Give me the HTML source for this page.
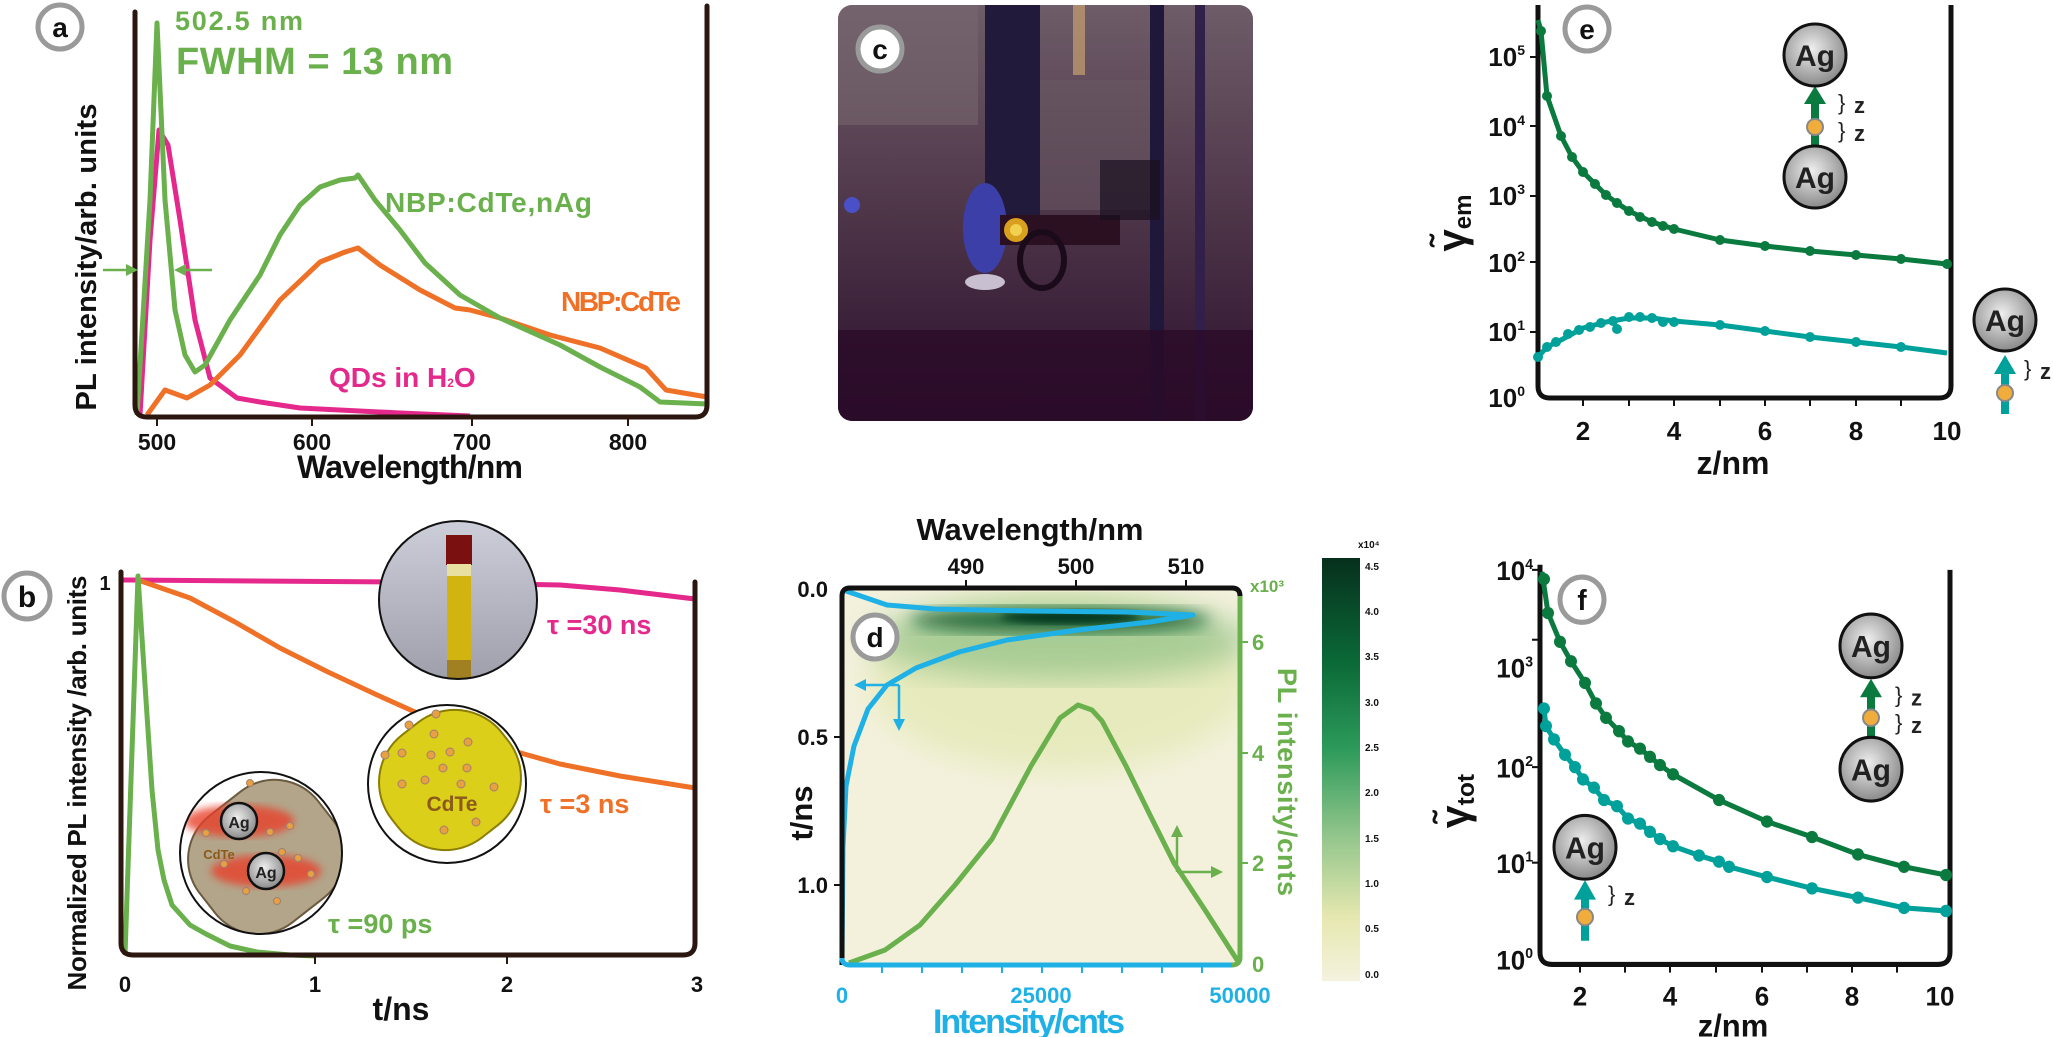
<!DOCTYPE html>
<html><head><meta charset="utf-8"><style>
html,body{margin:0;padding:0;background:#fff;}
svg{display:block;font-family:"Liberation Sans",sans-serif;font-weight:bold;}
</style></head><body>
<svg width="2053" height="1037" viewBox="0 0 2053 1037" xmlns="http://www.w3.org/2000/svg">
<defs>
<radialGradient id="ag" cx="0.45" cy="0.4" r="0.6"><stop offset="0" stop-color="#eeeeee"/><stop offset="1" stop-color="#8a8a8a"/></radialGradient>
<linearGradient id="cb" x1="0" y1="0" x2="0" y2="1"><stop offset="0" stop-color="#06301c"/><stop offset="0.25" stop-color="#0b6a38"/><stop offset="0.45" stop-color="#2c9a5a"/><stop offset="0.65" stop-color="#8fc48a"/><stop offset="0.85" stop-color="#e6e8b0"/><stop offset="1" stop-color="#f4f2de"/></linearGradient>
<linearGradient id="photo" x1="0" y1="0" x2="0" y2="1"><stop offset="0" stop-color="#6e5c68"/><stop offset="0.5" stop-color="#4e3649"/><stop offset="1" stop-color="#2a0f2c"/></linearGradient>
<linearGradient id="vialbg" x1="0" y1="0" x2="0" y2="1"><stop offset="0" stop-color="#cfd1dc"/><stop offset="1" stop-color="#9c9ca8"/></linearGradient>
<filter id="bl8"><feGaussianBlur stdDeviation="8"/></filter>
<filter id="bl4"><feGaussianBlur stdDeviation="4"/></filter>
<filter id="bl15"><feGaussianBlur stdDeviation="15"/></filter>
<clipPath id="cv"><circle cx="458" cy="600" r="79"/></clipPath>
<clipPath id="cc"><circle cx="447" cy="784" r="79"/></clipPath>
<clipPath id="ca"><circle cx="261" cy="853" r="81"/></clipPath>
<clipPath id="cd"><rect x="842" y="588" width="398" height="377"/></clipPath>
<clipPath id="cp"><rect x="838" y="5" width="415" height="416" rx="14"/></clipPath>
</defs>

<!-- ===== Panel a ===== -->
<circle cx="60" cy="27" r="22" fill="#fff" stroke="#9a9a9a" stroke-width="5"/>
<text x="60" y="37" font-size="28" text-anchor="middle" fill="#111">a</text>
<polyline fill="none" stroke="#e5288c" stroke-width="5" stroke-linejoin="round" points="140,415 150,240 159,130 168,145 180,220 195,320 210,378 237,398 260,402 300,408 400,413 470,416"/>
<polyline fill="none" stroke="#ee7127" stroke-width="5" stroke-linejoin="round" points="147,415 165,390 187,398 210,385 240,355 280,300 320,262 345,252 358,248 380,265 420,290 455,308 470,310 500,318 550,335 600,348 646,368 666,390 707,397"/>
<polyline fill="none" stroke="#6ab04c" stroke-width="5" stroke-linejoin="round" points="137,415 150,200 157,23 165,200 175,310 185,355 195,372 205,365 230,320 260,275 280,235 300,205 320,187 340,180 355,178 358,175 375,200 400,230 425,263 460,295 500,318 560,345 600,367 640,387 660,402 707,404"/>
<path d="M135,12 V405 Q135,417 147,417 H695 Q707,417 707,405 V6" fill="none" stroke="#2b1610" stroke-width="5" stroke-linecap="round"/>
<g stroke="#2b1610" stroke-width="2"><line x1="157" y1="417" x2="157" y2="426"/><line x1="312" y1="417" x2="312" y2="426"/><line x1="472" y1="417" x2="472" y2="426"/><line x1="628" y1="417" x2="628" y2="426"/></g>
<g font-size="23" fill="#111" text-anchor="middle"><text x="157" y="450">500</text><text x="312" y="450">600</text><text x="472" y="450">700</text><text x="628" y="450">800</text></g>
<text x="410" y="478" font-size="32" text-anchor="middle" fill="#111" textLength="226">Wavelength/nm</text>
<text transform="translate(96,257) rotate(-90)" font-size="29" text-anchor="middle" fill="#111" textLength="307">PL intensity/arb. units</text>
<g stroke="#6ab04c" stroke-width="2.5" fill="#6ab04c"><line x1="103" y1="270" x2="128" y2="270"/><polygon points="138,270 126,264 126,276" stroke="none"/><line x1="212" y1="270" x2="184" y2="270"/><polygon points="174,270 186,264 186,276" stroke="none"/></g>
<text x="175" y="30" font-size="27" fill="#6ab04c" textLength="128">502.5 nm</text>
<text x="176" y="74" font-size="38" fill="#6ab04c" textLength="277">FWHM = 13 nm</text>
<text x="385" y="212" font-size="28" fill="#6ab04c" textLength="207">NBP:CdTe,nAg</text>
<text x="561" y="311" font-size="28" fill="#ee7127" textLength="120">NBP:CdTe</text>
<text x="329" y="387" font-size="28" fill="#e5288c">QDs in H<tspan font-size="12">2</tspan>O</text>

<!-- ===== Panel c (photo) ===== -->
<g clip-path="url(#cp)">
<rect x="838" y="5" width="415" height="416" fill="url(#photo)"/>
<rect x="838" y="5" width="140" height="120" fill="#7a6a70" opacity="0.5"/>
<rect x="1030" y="80" width="120" height="130" fill="#6a5a64" opacity="0.5"/>
<rect x="985" y="5" width="55" height="215" fill="#221a3a"/>
<rect x="1073" y="5" width="12" height="70" fill="#c8a070" opacity="0.7"/>
<rect x="1150" y="5" width="14" height="420" fill="#20183a"/>
<rect x="1195" y="5" width="10" height="420" fill="#30204a"/>
<ellipse cx="985" cy="228" rx="22" ry="45" fill="#3d3fa8"/>
<rect x="1000" y="215" width="120" height="30" fill="#2a1020"/>
<circle cx="1016" cy="230" r="12" fill="#d9a020"/>
<circle cx="1016" cy="230" r="6" fill="#f2d050"/>
<ellipse cx="1042" cy="260" rx="22" ry="28" fill="none" stroke="#1a0a1a" stroke-width="6"/>
<ellipse cx="985" cy="282" rx="20" ry="8" fill="#c8c0d0"/>
<rect x="838" y="330" width="415" height="91" fill="#2a0a28" opacity="0.8"/>
<rect x="1100" y="160" width="60" height="60" fill="#1a1020" opacity="0.7"/>
<circle cx="852" cy="205" r="8" fill="#4a50c8"/>
</g>
<circle cx="880" cy="49" r="22" fill="#fff" stroke="#9a9a9a" stroke-width="5"/>
<text x="880" y="59" font-size="28" text-anchor="middle" fill="#111">c</text>

<!-- ===== Panel b ===== -->
<circle cx="27" cy="596" r="23" fill="#fff" stroke="#9a9a9a" stroke-width="5"/>
<text x="27" y="607" font-size="30" text-anchor="middle" fill="#111">b</text>
<text transform="translate(86,783) rotate(-90)" font-size="26" text-anchor="middle" fill="#111" textLength="415">Normalized PL intensity /arb. units</text>
<text x="105" y="590" font-size="20" fill="#111" text-anchor="middle">1</text>
<polyline fill="none" stroke="#e5288c" stroke-width="5" points="123,580 400,582 560,585 620,590 695,599"/>
<polyline fill="none" stroke="#ee7127" stroke-width="5" stroke-linejoin="round" points="138,580 190,598 235,622 280,648 328,672 375,694 415,712 470,735 517,752 560,764 620,776 695,788"/>
<polyline fill="none" stroke="#6ab04c" stroke-width="5" stroke-linejoin="round" points="125,955 131,780 138,576 146,700 152,790 158,850 164,880 172,905 190,925 206,934 230,946 257,952 290,955 316,956"/>
<path d="M121,572 V943 Q121,955 133,955 H683 Q695,955 695,943 V582" fill="none" stroke="#2b1610" stroke-width="5" stroke-linecap="round"/>
<g stroke="#2b1610" stroke-width="2"><line x1="315" y1="955" x2="315" y2="964"/><line x1="507" y1="955" x2="507" y2="964"/></g>
<g font-size="22" fill="#111" text-anchor="middle"><text x="125" y="992">0</text><text x="315" y="992">1</text><text x="507" y="992">2</text><text x="697" y="992">3</text></g>
<text x="401" y="1020" font-size="32" text-anchor="middle" fill="#111">t/ns</text>
<text x="547" y="634" font-size="27" fill="#e5288c">τ =30 ns</text>
<text x="540" y="813" font-size="27" fill="#ee7127">τ =3 ns</text>
<text x="328" y="933" font-size="27" fill="#6ab04c">τ =90 ps</text>
<g clip-path="url(#cv)"><rect x="370" y="510" width="180" height="180" fill="url(#vialbg)"/>
<rect x="446" y="535" width="26" height="30" fill="#7a1010"/><rect x="447" y="564" width="24" height="110" fill="#d2b410"/><rect x="447" y="564" width="24" height="12" fill="#e8e0a0"/><rect x="447" y="660" width="24" height="30" fill="#a08020"/></g>
<circle cx="458" cy="600" r="79" fill="none" stroke="#111" stroke-width="2"/>
<circle cx="447" cy="784" r="79" fill="#fff"/>
<g clip-path="url(#cc)"><rect x="380" y="715" width="140" height="130" rx="60" transform="rotate(-38 450 780)" fill="#dccf1a" stroke="#8a7d00" stroke-width="2"/>
<g fill="#e8a040" stroke="#a08070" stroke-width="1"><circle cx="436" cy="714" r="4"/><circle cx="409" cy="725" r="4"/><circle cx="434" cy="734" r="4"/><circle cx="468" cy="742" r="4"/><circle cx="385" cy="755" r="4"/><circle cx="402" cy="753" r="4"/><circle cx="431" cy="755" r="4"/><circle cx="450" cy="752" r="4"/><circle cx="443" cy="768" r="4"/><circle cx="467" cy="768" r="4"/><circle cx="425" cy="780" r="4"/><circle cx="461" cy="784" r="4"/><circle cx="402" cy="784" r="4"/><circle cx="494" cy="787" r="4"/><circle cx="476" cy="822" r="4"/><circle cx="444" cy="830" r="4"/></g>
<text x="452" y="811" font-size="21" fill="#8b5a1a" text-anchor="middle">CdTe</text></g>
<circle cx="447" cy="784" r="79" fill="none" stroke="#111" stroke-width="2"/>
<circle cx="261" cy="853" r="81" fill="#fff"/>
<g clip-path="url(#ca)"><rect x="190" y="790" width="150" height="135" rx="55" transform="rotate(-38 265 855)" fill="#b3a58a" stroke="#6a5a40" stroke-width="2"/>
<ellipse cx="239" cy="821" rx="55" ry="16" fill="#e8402a" opacity="0.8" filter="url(#bl4)"/>
<ellipse cx="266" cy="871" rx="55" ry="16" fill="#e8402a" opacity="0.8" filter="url(#bl4)"/>
<circle cx="239" cy="821" r="18" fill="url(#ag)" stroke="#111" stroke-width="2.5"/><text x="239" y="828" font-size="16" text-anchor="middle" fill="#222">Ag</text>
<circle cx="266" cy="871" r="18" fill="url(#ag)" stroke="#111" stroke-width="2.5"/><text x="266" y="878" font-size="16" text-anchor="middle" fill="#222">Ag</text>
<text x="219" y="859" font-size="13" fill="#8b5a1a" text-anchor="middle">CdTe</text>
<g fill="#e8a040" stroke="#a08070" stroke-width="1"><circle cx="250" cy="783" r="3.5"/><circle cx="270" cy="832" r="3.5"/><circle cx="290" cy="826" r="3.5"/><circle cx="206" cy="833" r="3.5"/><circle cx="282" cy="852" r="3.5"/><circle cx="224" cy="864" r="3.5"/><circle cx="298" cy="858" r="3.5"/><circle cx="311" cy="874" r="3.5"/><circle cx="246" cy="891" r="3.5"/><circle cx="277" cy="901" r="3.5"/></g></g>
<circle cx="261" cy="853" r="81" fill="none" stroke="#111" stroke-width="2"/>

<!-- ===== Panel d ===== -->
<g clip-path="url(#cd)">
<rect x="842" y="588" width="398" height="377" fill="#f3f1dc"/>
<ellipse cx="1060" cy="680" rx="190" ry="90" fill="#dfe6a8" opacity="0.6" filter="url(#bl15)"/>
<ellipse cx="1060" cy="640" rx="190" ry="40" fill="#5fa866" opacity="0.45" filter="url(#bl15)"/>
<ellipse cx="1060" cy="620" rx="150" ry="13" fill="#0e5a2e" opacity="0.85" filter="url(#bl8)"/>
<ellipse cx="1070" cy="617" rx="70" ry="7" fill="#06301c" opacity="0.9" filter="url(#bl4)"/>
</g>
<polyline fill="none" stroke="#1fb1e6" stroke-width="5" stroke-linejoin="round" points="846,591 887,605 935,609 1031,611 1126,612 1193,615 1150,622 1078,630 1007,640 959,652 916,668 887,685 868,709 854,746 846,786 843,847 842,961"/>
<polyline fill="none" stroke="#6ab04c" stroke-width="5" stroke-linejoin="round" points="849,963 885,950 920,925 955,885 992,839 1031,766 1060,718 1078,705 1092,710 1102,721 1126,766 1150,815 1174,863 1205,910 1239,963"/>
<g stroke="#1fb1e6" stroke-width="2.5" fill="#1fb1e6"><line x1="899" y1="685" x2="864" y2="685"/><polygon points="854,685 866,679 866,691" stroke="none"/><line x1="899" y1="685" x2="899" y2="721"/><polygon points="899,731 893,719 905,719" stroke="none"/></g>
<g stroke="#6ab04c" stroke-width="2.5" fill="#6ab04c"><line x1="1177" y1="872" x2="1177" y2="835"/><polygon points="1177,825 1171,837 1183,837" stroke="none"/><line x1="1177" y1="872" x2="1213" y2="872"/><polygon points="1223,872 1211,866 1211,878" stroke="none"/></g>
<path d="M842,965 V596 Q842,588 850,588 H1232 Q1240,588 1240,596" fill="none" stroke="#111" stroke-width="5"/>
<path d="M1240,596 V957 Q1240,965 1232,965" fill="none" stroke="#6ab04c" stroke-width="5"/>
<path d="M1232,965 H850 Q842,965 842,958" fill="none" stroke="#1fb1e6" stroke-width="5"/>
<circle cx="875" cy="637" r="22" fill="#fff" stroke="#9a9a9a" stroke-width="5"/>
<text x="875" y="647" font-size="28" text-anchor="middle" fill="#111">d</text>
<g stroke="#111" stroke-width="2"><line x1="966" y1="580" x2="966" y2="588"/><line x1="1076" y1="580" x2="1076" y2="588"/><line x1="1186" y1="580" x2="1186" y2="588"/><line x1="834" y1="737" x2="842" y2="737"/><line x1="834" y1="885" x2="842" y2="885"/></g>
<g font-size="22" fill="#111" text-anchor="middle"><text x="966" y="574">490</text><text x="1076" y="574">500</text><text x="1186" y="574">510</text></g>
<text x="1030" y="540" font-size="31" text-anchor="middle" fill="#111" textLength="227">Wavelength/nm</text>
<g font-size="22" fill="#111" text-anchor="end"><text x="828" y="597">0.0</text><text x="828" y="745">0.5</text><text x="828" y="893">1.0</text></g>
<text transform="translate(812,813) rotate(-90)" font-size="31" text-anchor="middle" fill="#111">t/ns</text>
<g stroke="#1fb1e6" stroke-width="2"><line x1="882" y1="965" x2="882" y2="973"/><line x1="922" y1="965" x2="922" y2="973"/><line x1="962" y1="965" x2="962" y2="973"/><line x1="1002" y1="965" x2="1002" y2="973"/><line x1="1042" y1="965" x2="1042" y2="973"/><line x1="1082" y1="965" x2="1082" y2="973"/><line x1="1122" y1="965" x2="1122" y2="973"/><line x1="1162" y1="965" x2="1162" y2="973"/><line x1="1202" y1="965" x2="1202" y2="973"/></g>
<g font-size="22" fill="#1fb1e6" text-anchor="middle"><text x="842" y="1003">0</text><text x="1041" y="1003">25000</text><text x="1240" y="1003">50000</text></g>
<text x="1029" y="1033" font-size="34" text-anchor="middle" fill="#1fb1e6" textLength="192">Intensity/cnts</text>
<g stroke="#6ab04c" stroke-width="2"><line x1="1240" y1="642" x2="1248" y2="642"/><line x1="1240" y1="753" x2="1248" y2="753"/><line x1="1240" y1="863" x2="1248" y2="863"/></g>
<g font-size="22" fill="#6ab04c"><text x="1252" y="650">6</text><text x="1252" y="761">4</text><text x="1252" y="871">2</text><text x="1252" y="972">0</text><text x="1250" y="592" font-size="17">x10³</text></g>
<text transform="translate(1278,782) rotate(90)" font-size="27" text-anchor="middle" fill="#6ab04c" textLength="228">PL intensity/cnts</text>
<rect x="1322" y="558" width="38" height="423" fill="url(#cb)"/>
<g font-size="10" fill="#111"><text x="1358" y="548">x10⁴</text><text x="1365" y="570">4.5</text><text x="1365" y="615">4.0</text><text x="1365" y="660">3.5</text><text x="1365" y="706">3.0</text><text x="1365" y="751">2.5</text><text x="1365" y="796">2.0</text><text x="1365" y="842">1.5</text><text x="1365" y="887">1.0</text><text x="1365" y="932">0.5</text><text x="1365" y="978">0.0</text></g>

<!-- ===== Panel e ===== -->
<path d="M1538,5 V386 Q1538,398 1550,398 H1939 Q1951,398 1951,386 V5" fill="none" stroke="#111" stroke-width="5"/>
<g stroke="#111" stroke-width="2"><line x1="1530" y1="57" x2="1538" y2="57"/><line x1="1530" y1="126" x2="1538" y2="126"/><line x1="1530" y1="196" x2="1538" y2="196"/><line x1="1530" y1="262" x2="1538" y2="262"/><line x1="1530" y1="332" x2="1538" y2="332"/>
<line x1="1583" y1="398" x2="1583" y2="406"/><line x1="1629" y1="398" x2="1629" y2="406"/><line x1="1674" y1="398" x2="1674" y2="406"/><line x1="1720" y1="398" x2="1720" y2="406"/><line x1="1765" y1="398" x2="1765" y2="406"/><line x1="1810" y1="398" x2="1810" y2="406"/><line x1="1856" y1="398" x2="1856" y2="406"/><line x1="1901" y1="398" x2="1901" y2="406"/></g>
<g font-size="26" fill="#111" text-anchor="end"><text x="1525" y="66">10<tspan font-size="14" dy="-11">5</tspan></text><text x="1525" y="136">10<tspan font-size="14" dy="-11">4</tspan></text><text x="1525" y="205">10<tspan font-size="14" dy="-11">3</tspan></text><text x="1525" y="272">10<tspan font-size="14" dy="-11">2</tspan></text><text x="1525" y="341">10<tspan font-size="14" dy="-11">1</tspan></text><text x="1525" y="407">10<tspan font-size="14" dy="-11">0</tspan></text></g>
<g font-size="26" fill="#111" text-anchor="middle"><text x="1583" y="440">2</text><text x="1674" y="440">4</text><text x="1765" y="440">6</text><text x="1856" y="440">8</text><text x="1947" y="440">10</text></g>
<text x="1733" y="474" font-size="32" text-anchor="middle" fill="#111">z/nm</text>
<text transform="translate(1465,223) rotate(-90)" font-size="40" text-anchor="middle" fill="#111">γ̃<tspan font-size="24" dy="6">em</tspan></text>
<polyline fill="none" stroke="#0a7a3f" stroke-width="5" stroke-linejoin="round" points="1538,20 1541,31 1547,96 1561,136 1572,157 1583,172 1595,184 1606,195 1617,203 1629,211 1652,222 1674,229 1720,240 1765,246 1810,251 1856,255 1901,259 1947,264"/>
<g fill="#0a7a3f"><circle cx="1541" cy="31" r="5"/><circle cx="1547" cy="96" r="5"/><circle cx="1561" cy="136" r="5"/><circle cx="1572" cy="157" r="5"/><circle cx="1583" cy="172" r="5"/><circle cx="1595" cy="184" r="5"/><circle cx="1606" cy="195" r="5"/><circle cx="1617" cy="203" r="5"/><circle cx="1629" cy="211" r="5"/><circle cx="1640" cy="217" r="5"/><circle cx="1652" cy="222" r="5"/><circle cx="1663" cy="226" r="5"/><circle cx="1674" cy="229" r="5"/><circle cx="1720" cy="240" r="5"/><circle cx="1765" cy="246" r="5"/><circle cx="1810" cy="251" r="5"/><circle cx="1856" cy="255" r="5"/><circle cx="1901" cy="259" r="5"/><circle cx="1947" cy="264" r="5"/></g>
<polyline fill="none" stroke="#00a19a" stroke-width="5" stroke-linejoin="round" points="1538,357 1547,347 1561,340 1572,334 1583,328 1606,322 1629,318 1652,318 1674,321 1720,325 1765,331 1810,337 1856,342 1901,347 1947,353"/>
<g fill="#00a19a"><circle cx="1538" cy="357" r="5"/><circle cx="1547" cy="347" r="5"/><circle cx="1556" cy="342" r="5"/><circle cx="1568" cy="334" r="5"/><circle cx="1579" cy="330" r="5"/><circle cx="1590" cy="327" r="5"/><circle cx="1601" cy="323" r="5"/><circle cx="1613" cy="321" r="5"/><circle cx="1617" cy="329" r="5"/><circle cx="1629" cy="317" r="5"/><circle cx="1640" cy="317" r="5"/><circle cx="1652" cy="318" r="5"/><circle cx="1663" cy="322" r="5"/><circle cx="1674" cy="322" r="5"/><circle cx="1720" cy="325" r="5"/><circle cx="1765" cy="331" r="5"/><circle cx="1810" cy="337" r="5"/><circle cx="1856" cy="342" r="5"/><circle cx="1901" cy="347" r="5"/></g>
<circle cx="1587" cy="29" r="22" fill="#fff" stroke="#9a9a9a" stroke-width="5"/>
<text x="1587" y="39" font-size="28" text-anchor="middle" fill="#111">e</text>
<rect x="1811" y="100" width="8" height="50" fill="#0a7a3f"/><polygon points="1815,86 1804,104 1826,104" fill="#0a7a3f"/>
<circle cx="1815" cy="127" r="8" fill="#f0ad3c" stroke="#888" stroke-width="2"/>
<circle cx="1815" cy="55" r="31" fill="url(#ag)" stroke="#111" stroke-width="3"/><text x="1815" y="66" font-size="30" text-anchor="middle" fill="#222">Ag</text>
<circle cx="1815" cy="177" r="31" fill="url(#ag)" stroke="#111" stroke-width="3"/><text x="1815" y="188" font-size="30" text-anchor="middle" fill="#222">Ag</text>
<g font-size="22" fill="#222"><text x="1838" y="110" font-weight="normal">}</text><text x="1854" y="113">z</text><text x="1838" y="138" font-weight="normal">}</text><text x="1854" y="141">z</text></g>
<rect x="2001" y="370" width="8" height="44" fill="#00a19a"/><polygon points="2005,355 1994,374 2016,374" fill="#00a19a"/>
<circle cx="2005" cy="393" r="8" fill="#f0ad3c" stroke="#888" stroke-width="2"/>
<circle cx="2005" cy="320" r="31" fill="url(#ag)" stroke="#111" stroke-width="3"/><text x="2005" y="331" font-size="30" text-anchor="middle" fill="#222">Ag</text>
<g font-size="22" fill="#222"><text x="2024" y="376" font-weight="normal">}</text><text x="2040" y="379">z</text></g>

<!-- ===== Panel f ===== -->
<g transform="translate(0,-13.7) scale(1,1.0274)">
<path d="M1540,563 V940 Q1540,952 1552,952 H1938 Q1950,952 1950,940 V568" fill="none" stroke="#111" stroke-width="5"/>
<g stroke="#111" stroke-width="2"><line x1="1532" y1="568" x2="1540" y2="568"/><line x1="1532" y1="636" x2="1540" y2="636"/><line x1="1532" y1="760" x2="1540" y2="760"/><line x1="1532" y1="853" x2="1540" y2="853"/>
<line x1="1580" y1="952" x2="1580" y2="960"/><line x1="1625" y1="952" x2="1625" y2="960"/><line x1="1670" y1="952" x2="1670" y2="960"/><line x1="1716" y1="952" x2="1716" y2="960"/><line x1="1762" y1="952" x2="1762" y2="960"/><line x1="1807" y1="952" x2="1807" y2="960"/><line x1="1852" y1="952" x2="1852" y2="960"/><line x1="1897" y1="952" x2="1897" y2="960"/></g>
<g font-size="26" fill="#111" text-anchor="end"><text x="1533" y="578">10<tspan font-size="14" dy="-11">4</tspan></text><text x="1533" y="673">10<tspan font-size="14" dy="-11">3</tspan></text><text x="1533" y="770">10<tspan font-size="14" dy="-11">2</tspan></text><text x="1533" y="863">10<tspan font-size="14" dy="-11">1</tspan></text><text x="1533" y="957">10<tspan font-size="14" dy="-11">0</tspan></text></g>
<g font-size="26" fill="#111" text-anchor="middle"><text x="1580" y="992">2</text><text x="1670" y="992">4</text><text x="1762" y="992">6</text><text x="1852" y="992">8</text><text x="1940" y="992">10</text></g>
<text x="1733" y="1022" font-size="31" text-anchor="middle" fill="#111">z/nm</text>
<text transform="translate(1468,793) rotate(-90)" font-size="40" text-anchor="middle" fill="#111">γ̃<tspan font-size="24" dy="6">tot</tspan></text>
<polyline fill="none" stroke="#0a7a3f" stroke-width="5" stroke-linejoin="round" points="1542,570 1548,610 1560,638 1571,657 1585,678 1596,698 1606,712 1619,725 1628,735 1640,742 1650,750 1660,758 1673,767 1719,792 1767,813 1812,828 1858,845 1904,857 1946,865"/>
<g fill="#0a7a3f"><circle cx="1544" cy="577" r="6"/><circle cx="1548" cy="610" r="6"/><circle cx="1560" cy="638" r="6"/><circle cx="1571" cy="657" r="6"/><circle cx="1585" cy="678" r="6"/><circle cx="1596" cy="698" r="6"/><circle cx="1606" cy="712" r="6"/><circle cx="1619" cy="725" r="6"/><circle cx="1628" cy="735" r="6"/><circle cx="1640" cy="742" r="6"/><circle cx="1650" cy="750" r="6"/><circle cx="1660" cy="758" r="6"/><circle cx="1673" cy="767" r="6"/><circle cx="1719" cy="792" r="6"/><circle cx="1767" cy="813" r="6"/><circle cx="1812" cy="828" r="6"/><circle cx="1858" cy="845" r="6"/><circle cx="1904" cy="857" r="6"/><circle cx="1946" cy="865" r="6"/></g>
<polyline fill="none" stroke="#00a19a" stroke-width="5" stroke-linejoin="round" points="1544,703 1546,720 1554,733 1565,748 1575,760 1583,772 1594,780 1604,792 1617,798 1628,810 1640,815 1650,823 1660,830 1673,837 1699,846 1719,852 1729,857 1767,867 1812,878 1858,887 1904,897 1946,900"/>
<g fill="#00a19a"><circle cx="1544" cy="703" r="6"/><circle cx="1546" cy="720" r="6"/><circle cx="1554" cy="733" r="6"/><circle cx="1565" cy="748" r="6"/><circle cx="1575" cy="760" r="6"/><circle cx="1583" cy="772" r="6"/><circle cx="1594" cy="780" r="6"/><circle cx="1604" cy="792" r="6"/><circle cx="1617" cy="798" r="6"/><circle cx="1628" cy="810" r="6"/><circle cx="1640" cy="815" r="6"/><circle cx="1650" cy="823" r="6"/><circle cx="1660" cy="830" r="6"/><circle cx="1673" cy="837" r="6"/><circle cx="1699" cy="846" r="6"/><circle cx="1719" cy="852" r="6"/><circle cx="1729" cy="857" r="6"/><circle cx="1767" cy="867" r="6"/><circle cx="1812" cy="878" r="6"/><circle cx="1858" cy="887" r="6"/><circle cx="1904" cy="897" r="6"/><circle cx="1946" cy="900" r="6"/></g>
<circle cx="1582" cy="597" r="22" fill="#fff" stroke="#9a9a9a" stroke-width="5"/>
<text x="1582" y="607" font-size="28" text-anchor="middle" fill="#111">f</text>
<rect x="1867" y="688" width="8" height="50" fill="#0a7a3f"/><polygon points="1871,674 1860,692 1882,692" fill="#0a7a3f"/>
<circle cx="1871" cy="712" r="8" fill="#f0ad3c" stroke="#888" stroke-width="2"/>
<circle cx="1871" cy="642" r="31" fill="url(#ag)" stroke="#111" stroke-width="3"/><text x="1871" y="653" font-size="30" text-anchor="middle" fill="#222">Ag</text>
<circle cx="1871" cy="762" r="31" fill="url(#ag)" stroke="#111" stroke-width="3"/><text x="1871" y="773" font-size="30" text-anchor="middle" fill="#222">Ag</text>
<g font-size="22" fill="#222"><text x="1895" y="697" font-weight="normal">}</text><text x="1911" y="700">z</text><text x="1895" y="724" font-weight="normal">}</text><text x="1911" y="727">z</text></g>
<rect x="1581" y="885" width="8" height="44" fill="#00a19a"/><polygon points="1585,870 1574,889 1596,889" fill="#00a19a"/>
<circle cx="1585" cy="906" r="8" fill="#f0ad3c" stroke="#888" stroke-width="2"/>
<circle cx="1585" cy="838" r="31" fill="url(#ag)" stroke="#111" stroke-width="3"/><text x="1585" y="849" font-size="30" text-anchor="middle" fill="#222">Ag</text>
<g font-size="22" fill="#222"><text x="1608" y="891" font-weight="normal">}</text><text x="1624" y="894">z</text></g>
</g>
</svg>
</body></html>
